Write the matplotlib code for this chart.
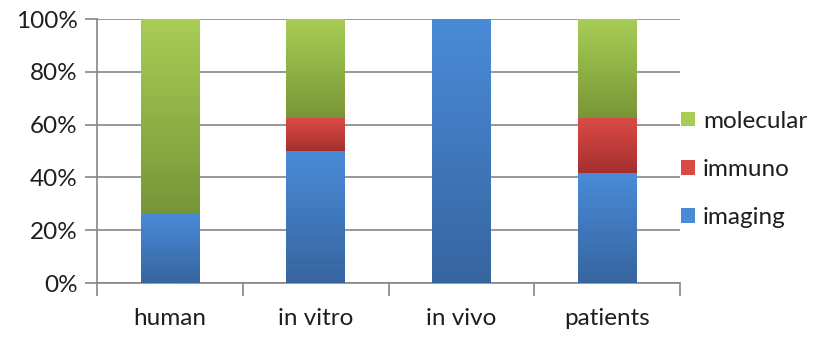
import numpy as np
import matplotlib.pyplot as plt
from matplotlib.colors import LinearSegmentedColormap
from matplotlib.patches import Patch

categories = ['human', 'in vitro', 'in vivo', 'patients']
imaging = [26.7, 50.0, 100.0, 41.7]
immuno = [0.0, 12.5, 0.0, 20.8]
molecular = [73.3, 37.5, 0.0, 37.5]

series = [
    ('imaging', imaging, '#4a8bd8', '#3765a0'),
    ('immuno', immuno, '#da4a47', '#a5302e'),
    ('molecular', molecular, '#a8cd55', '#789638'),
]

plt.rcParams['font.family'] = ['Lato', 'DejaVu Sans']
axis_grey = '#868686'
text_col = '#1e1e1e'
fsize = 17.5

fig = plt.figure(figsize=(8.16, 3.38), dpi=100)
ax = fig.add_axes([97 / 816, 1 - 283 / 338, (680 - 97) / 816, (283 - 19) / 338])

x = np.arange(len(categories))
bottom = np.zeros(len(categories))
grad = np.linspace(1, 0, 64).reshape(-1, 1)

for name, vals, top_col, bot_col in series:
    vals = np.array(vals)
    bars = ax.bar(x, vals, width=0.4, bottom=bottom, color='none', linewidth=0, zorder=3)
    cmap = LinearSegmentedColormap.from_list(name, [bot_col, top_col])
    # shade every segment from light at the top to dark at the bottom
    for bar in bars:
        h = bar.get_height()
        if h <= 0:
            continue
        x0 = bar.get_x()
        y0 = bar.get_y()
        im = ax.imshow(grad, cmap=cmap, aspect='auto', zorder=3,
                       extent=[x0, x0 + bar.get_width(), y0, y0 + h],
                       interpolation='bilinear')
        im.set_clip_path(bar)
    bottom += vals

ax.set_xlim(-0.5, len(categories) - 0.5)
ax.set_ylim(0, 100)
ax.set_yticks(np.arange(0, 101, 20))
ax.set_yticklabels([f'{v}%' for v in range(0, 101, 20)])
ax.yaxis.grid(True, color=axis_grey, linewidth=1.2, zorder=0)
ax.set_axisbelow(True)

ax.set_xticks(x)
ax.set_xticklabels(categories)
ax.tick_params(axis='x', length=0, pad=18, labelsize=fsize, colors=text_col)
ax.set_xticks(np.arange(-0.5, len(categories)), minor=True)
ax.tick_params(axis='x', which='minor', length=9, width=1.2, color=axis_grey)
ax.tick_params(axis='y', length=9, width=1.2, color=axis_grey, pad=5,
               labelsize=fsize, labelcolor=text_col)

for side in ['top', 'right']:
    ax.spines[side].set_visible(False)
for side in ['left', 'bottom']:
    ax.spines[side].set_color(axis_grey)
    ax.spines[side].set_linewidth(1.2)

handles = [Patch(facecolor=s[2], edgecolor='none', label=s[0]) for s in series][::-1]
leg = ax.legend(handles=handles, loc='center left', bbox_to_anchor=(1.002, 0.43),
                frameon=False, fontsize=fsize, handlelength=0.55, handleheight=0.55,
                handletextpad=0.35, labelspacing=1.12, borderaxespad=0, borderpad=0)
for t in leg.get_texts():
    t.set_color(text_col)

fig.savefig('out.png', dpi=100)
